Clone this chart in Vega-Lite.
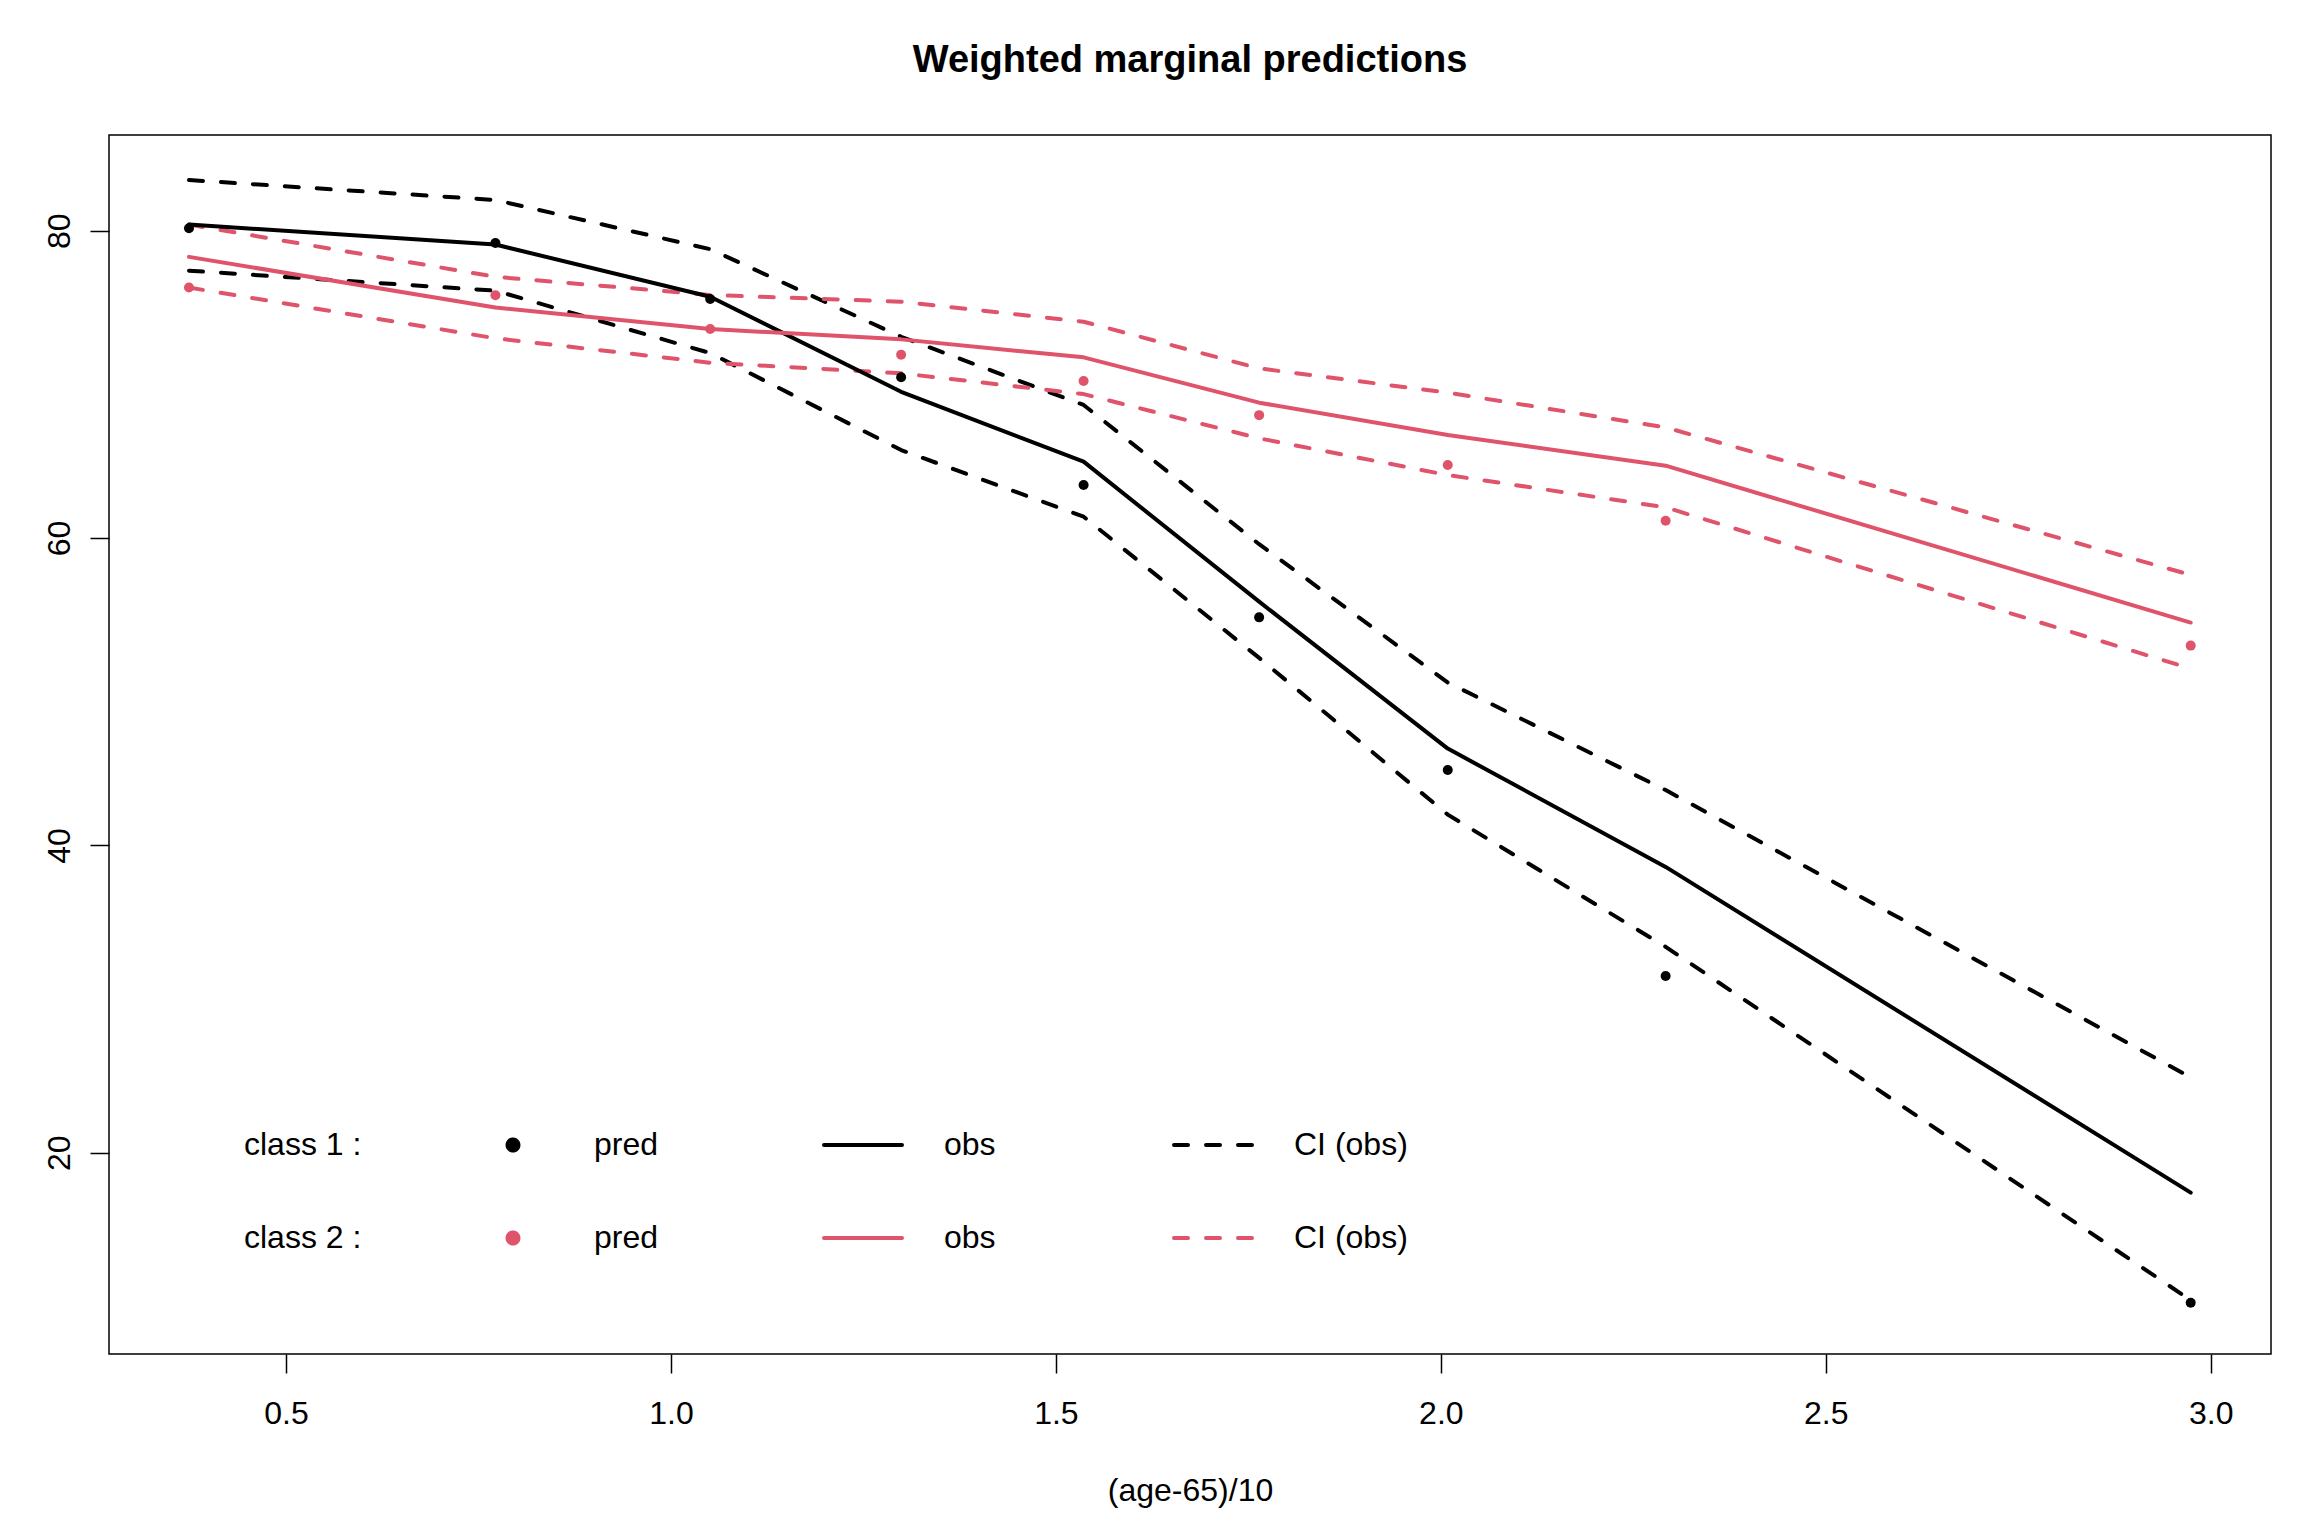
{
  "$schema": "https://vega.github.io/schema/vega-lite/v6.json",
  "width": 2162,
  "height": 1219,
  "autosize": {"type": "none"},
  "padding": {"left": 109, "top": 135, "right": 49, "bottom": 174},
  "background": "white",
  "config": {
    "view": {"stroke": "black", "strokeWidth": 1.5},
    "axis": {
      "grid": false,
      "domain": false,
      "tickSize": 19,
      "tickColor": "black",
      "tickWidth": 1.5,
      "labelFont": "Liberation Sans",
      "labelFontSize": 32,
      "labelColor": "black",
      "labelPadding": 27,
      "labelFlush": false,
      "labelOverlap": false,
      "titleFont": "Liberation Sans",
      "titleFontSize": 32,
      "titleFontWeight": "normal",
      "titleColor": "black"
    }
  },
  "title": {
    "text": "Weighted marginal predictions",
    "font": "Liberation Sans",
    "fontSize": 38,
    "fontWeight": "bold",
    "color": "black",
    "anchor": "middle",
    "frame": "group",
    "baseline": "alphabetic",
    "offset": 25
  },
  "data": {
    "values": [
      {"x": 0.374, "y": 80.16, "series": "c1|pred", "kind": "pred", "bound": "-"},
      {"x": 0.772, "y": 79.2, "series": "c1|pred", "kind": "pred", "bound": "-"},
      {"x": 1.051, "y": 75.56, "series": "c1|pred", "kind": "pred", "bound": "-"},
      {"x": 1.299, "y": 70.46, "series": "c1|pred", "kind": "pred", "bound": "-"},
      {"x": 1.536, "y": 63.45, "series": "c1|pred", "kind": "pred", "bound": "-"},
      {"x": 1.764, "y": 54.84, "series": "c1|pred", "kind": "pred", "bound": "-"},
      {"x": 2.009, "y": 44.9, "series": "c1|pred", "kind": "pred", "bound": "-"},
      {"x": 2.292, "y": 31.5, "series": "c1|pred", "kind": "pred", "bound": "-"},
      {"x": 2.974, "y": 10.24, "series": "c1|pred", "kind": "pred", "bound": "-"},

      {"x": 0.374, "y": 80.4, "series": "c1|obs", "kind": "obs", "bound": "-"},
      {"x": 0.772, "y": 79.1, "series": "c1|obs", "kind": "obs", "bound": "-"},
      {"x": 1.051, "y": 75.7, "series": "c1|obs", "kind": "obs", "bound": "-"},
      {"x": 1.299, "y": 69.52, "series": "c1|obs", "kind": "obs", "bound": "-"},
      {"x": 1.536, "y": 64.97, "series": "c1|obs", "kind": "obs", "bound": "-"},
      {"x": 1.764, "y": 55.86, "series": "c1|obs", "kind": "obs", "bound": "-"},
      {"x": 2.009, "y": 46.3, "series": "c1|obs", "kind": "obs", "bound": "-"},
      {"x": 2.292, "y": 38.6, "series": "c1|obs", "kind": "obs", "bound": "-"},
      {"x": 2.974, "y": 17.4, "series": "c1|obs", "kind": "obs", "bound": "-"},

      {"x": 0.374, "y": 83.3, "series": "c1|CI (obs)", "kind": "ci", "bound": "hi"},
      {"x": 0.772, "y": 82.0, "series": "c1|CI (obs)", "kind": "ci", "bound": "hi"},
      {"x": 1.051, "y": 78.8, "series": "c1|CI (obs)", "kind": "ci", "bound": "hi"},
      {"x": 1.299, "y": 73.1, "series": "c1|CI (obs)", "kind": "ci", "bound": "hi"},
      {"x": 1.536, "y": 68.66, "series": "c1|CI (obs)", "kind": "ci", "bound": "hi"},
      {"x": 1.764, "y": 59.6, "series": "c1|CI (obs)", "kind": "ci", "bound": "hi"},
      {"x": 2.009, "y": 50.6, "series": "c1|CI (obs)", "kind": "ci", "bound": "hi"},
      {"x": 2.292, "y": 43.6, "series": "c1|CI (obs)", "kind": "ci", "bound": "hi"},
      {"x": 2.974, "y": 24.9, "series": "c1|CI (obs)", "kind": "ci", "bound": "hi"},

      {"x": 0.374, "y": 77.4, "series": "c1|CI (obs)", "kind": "ci", "bound": "lo"},
      {"x": 0.772, "y": 76.1, "series": "c1|CI (obs)", "kind": "ci", "bound": "lo"},
      {"x": 1.051, "y": 72.04, "series": "c1|CI (obs)", "kind": "ci", "bound": "lo"},
      {"x": 1.299, "y": 65.73, "series": "c1|CI (obs)", "kind": "ci", "bound": "lo"},
      {"x": 1.536, "y": 61.39, "series": "c1|CI (obs)", "kind": "ci", "bound": "lo"},
      {"x": 1.764, "y": 52.2, "series": "c1|CI (obs)", "kind": "ci", "bound": "lo"},
      {"x": 2.009, "y": 42.0, "series": "c1|CI (obs)", "kind": "ci", "bound": "lo"},
      {"x": 2.292, "y": 33.4, "series": "c1|CI (obs)", "kind": "ci", "bound": "lo"},
      {"x": 2.974, "y": 10.4, "series": "c1|CI (obs)", "kind": "ci", "bound": "lo"},

      {"x": 0.374, "y": 76.3, "series": "c2|pred", "kind": "pred", "bound": "-"},
      {"x": 0.772, "y": 75.8, "series": "c2|pred", "kind": "pred", "bound": "-"},
      {"x": 1.051, "y": 73.6, "series": "c2|pred", "kind": "pred", "bound": "-"},
      {"x": 1.299, "y": 71.93, "series": "c2|pred", "kind": "pred", "bound": "-"},
      {"x": 1.536, "y": 70.22, "series": "c2|pred", "kind": "pred", "bound": "-"},
      {"x": 1.764, "y": 68.0, "series": "c2|pred", "kind": "pred", "bound": "-"},
      {"x": 2.009, "y": 64.75, "series": "c2|pred", "kind": "pred", "bound": "-"},
      {"x": 2.292, "y": 61.13, "series": "c2|pred", "kind": "pred", "bound": "-"},
      {"x": 2.974, "y": 53.0, "series": "c2|pred", "kind": "pred", "bound": "-"},

      {"x": 0.374, "y": 78.3, "series": "c2|obs", "kind": "obs", "bound": "-"},
      {"x": 0.772, "y": 75.0, "series": "c2|obs", "kind": "obs", "bound": "-"},
      {"x": 1.051, "y": 73.6, "series": "c2|obs", "kind": "obs", "bound": "-"},
      {"x": 1.299, "y": 72.93, "series": "c2|obs", "kind": "obs", "bound": "-"},
      {"x": 1.536, "y": 71.76, "series": "c2|obs", "kind": "obs", "bound": "-"},
      {"x": 1.764, "y": 68.81, "series": "c2|obs", "kind": "obs", "bound": "-"},
      {"x": 2.009, "y": 66.71, "series": "c2|obs", "kind": "obs", "bound": "-"},
      {"x": 2.292, "y": 64.71, "series": "c2|obs", "kind": "obs", "bound": "-"},
      {"x": 2.974, "y": 54.5, "series": "c2|obs", "kind": "obs", "bound": "-"},

      {"x": 0.374, "y": 80.4, "series": "c2|CI (obs)", "kind": "ci", "bound": "hi"},
      {"x": 0.772, "y": 77.0, "series": "c2|CI (obs)", "kind": "ci", "bound": "hi"},
      {"x": 1.051, "y": 75.82, "series": "c2|CI (obs)", "kind": "ci", "bound": "hi"},
      {"x": 1.299, "y": 75.38, "series": "c2|CI (obs)", "kind": "ci", "bound": "hi"},
      {"x": 1.536, "y": 74.08, "series": "c2|CI (obs)", "kind": "ci", "bound": "hi"},
      {"x": 1.764, "y": 71.04, "series": "c2|CI (obs)", "kind": "ci", "bound": "hi"},
      {"x": 2.009, "y": 69.46, "series": "c2|CI (obs)", "kind": "ci", "bound": "hi"},
      {"x": 2.292, "y": 67.2, "series": "c2|CI (obs)", "kind": "ci", "bound": "hi"},
      {"x": 2.974, "y": 57.6, "series": "c2|CI (obs)", "kind": "ci", "bound": "hi"},

      {"x": 0.374, "y": 76.3, "series": "c2|CI (obs)", "kind": "ci", "bound": "lo"},
      {"x": 0.772, "y": 73.0, "series": "c2|CI (obs)", "kind": "ci", "bound": "lo"},
      {"x": 1.051, "y": 71.41, "series": "c2|CI (obs)", "kind": "ci", "bound": "lo"},
      {"x": 1.299, "y": 70.72, "series": "c2|CI (obs)", "kind": "ci", "bound": "lo"},
      {"x": 1.536, "y": 69.37, "series": "c2|CI (obs)", "kind": "ci", "bound": "lo"},
      {"x": 1.764, "y": 66.49, "series": "c2|CI (obs)", "kind": "ci", "bound": "lo"},
      {"x": 2.009, "y": 64.1, "series": "c2|CI (obs)", "kind": "ci", "bound": "lo"},
      {"x": 2.292, "y": 62.0, "series": "c2|CI (obs)", "kind": "ci", "bound": "lo"},
      {"x": 2.974, "y": 51.5, "series": "c2|CI (obs)", "kind": "ci", "bound": "lo"}
    ]
  },
  "encoding": {
    "x": {
      "field": "x",
      "type": "quantitative",
      "scale": {"domain": [0.2701, 3.0783], "nice": false, "zero": false},
      "axis": {
        "values": [0.5, 1, 1.5, 2, 2.5, 3],
        "format": ".1f",
        "title": "(age-65)/10",
        "titleX": 1081,
        "titleY": 146,
        "titleAlign": "center",
        "titleBaseline": "alphabetic",
        "labelPadding": 25
      }
    },
    "y": {
      "field": "y",
      "type": "quantitative",
      "scale": {"domain": [6.9, 86.23], "nice": false, "zero": false},
      "axis": {
        "values": [20, 40, 60, 80],
        "format": "d",
        "title": null,
        "labelAngle": 270,
        "labelAlign": "center",
        "labelBaseline": "alphabetic",
        "labelPadding": 21
      }
    },
    "color": {
      "field": "series",
      "type": "nominal",
      "scale": {
        "domain": ["c1|class 1 :", "c1|pred", "c1|obs", "c1|CI (obs)", "c2|class 2 :", "c2|pred", "c2|obs", "c2|CI (obs)"],
        "range": ["#000000", "#000000", "#000000", "#000000", "#DF536B", "#DF536B", "#DF536B", "#DF536B"]
      },
      "legend": {
        "orient": "none",
        "legendX": 13,
        "legendY": 994,
        "direction": "horizontal",
        "columns": 4,
        "gridAlign": "all",
        "columnPadding": 110,
        "rowPadding": 61,
        "clipHeight": 32,
        "symbolSize": 6084,
        "symbolStrokeWidth": 4,
        "labelFont": "Liberation Sans",
        "labelFontSize": 32,
        "labelColor": "black",
        "labelOffset": 40,
        "labelBaseline": "middle",
        "labelLimit": 400,
        "title": null,
        "padding": 0,
        "labelExpr": "split(datum.value, '|')[1]",
        "encode": {
          "symbols": {
            "update": {
              "shape": {"signal": "indexof(datum.value, 'pred') > 0 ? 'M0.14,0A0.14,0.14,0,1,1,-0.14,0A0.14,0.14,0,1,1,0.14,0Z' : 'stroke'"},
              "fill": {"signal": "indexof(datum.value, 'pred') > 0 ? scale('color', datum.value) : 'transparent'"},
              "stroke": {"signal": "indexof(datum.value, 'pred') > 0 ? 'transparent' : scale('color', datum.value)"},
              "strokeDash": {"signal": "indexof(datum.value, 'CI') > 0 ? [14, 18] : [1, 0]"},
              "opacity": {"signal": "indexof(datum.value, 'class') > 0 ? 0 : 1"},
              "strokeCap": {"value": "round"}
            }
          }
        }
      }
    }
  },
  "layer": [
    {
      "transform": [{"filter": "datum.kind == 'ci'"}],
      "mark": {"type": "line", "strokeWidth": 4, "strokeDash": [14, 18], "strokeCap": "round", "strokeJoin": "round"},
      "encoding": {"detail": {"field": "bound", "type": "nominal"}}
    },
    {
      "transform": [{"filter": "datum.kind == 'obs'"}],
      "mark": {"type": "line", "strokeWidth": 4, "strokeCap": "round", "strokeJoin": "round"}
    },
    {
      "transform": [{"filter": "datum.kind == 'pred'"}],
      "mark": {"type": "circle", "size": 100, "opacity": 1}
    }
  ]
}
